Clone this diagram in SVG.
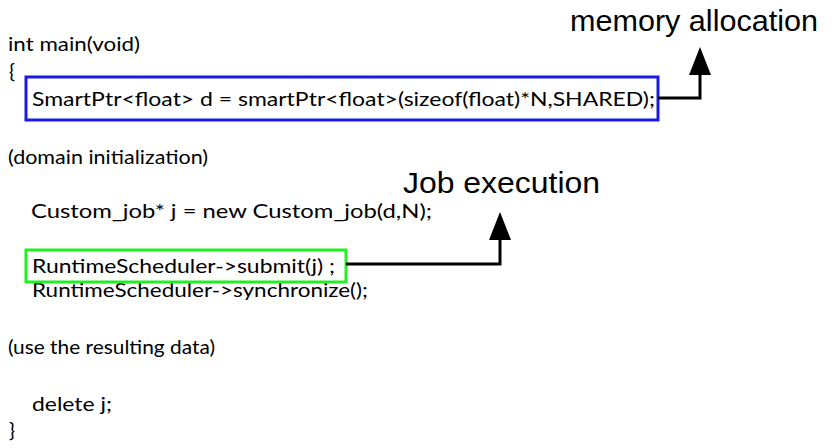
<svg xmlns="http://www.w3.org/2000/svg" width="832" height="448" viewBox="0 0 832 448">
  <defs>
    <marker id="head" viewBox="0 0 28 22" refX="0" refY="11" markerWidth="28" markerHeight="22" markerUnits="userSpaceOnUse" orient="auto">
      <path d="M0,0 L28,11 L0,22 Z" fill="#000"/>
    </marker>
    <style>
      .code { font-family: Lato, "Open Sans", "Liberation Sans", sans-serif; font-size: 20px; fill: #000; }
      .note { font-family: "Liberation Sans", Arial, sans-serif; font-size: 30px; fill: #000; }
      .box { fill: none; stroke-width: 3; }
      .wire { fill: none; stroke: #000; stroke-width: 3; }
    </style>
  </defs>
  <rect width="832" height="448" fill="#fff"/>

  <g id="code">
    <text class="code" x="8" y="51" textLength="132" lengthAdjust="spacingAndGlyphs">int main(void)</text>
    <text class="code" x="9" y="78">{</text>
    <text class="code" x="8" y="164" textLength="200" lengthAdjust="spacingAndGlyphs">(domain initialization)</text>
    <text class="code" x="31" y="218" textLength="401" lengthAdjust="spacingAndGlyphs">Custom_job* j = new Custom_job(d,N);</text>
    <text class="code" x="32" y="297" textLength="336" lengthAdjust="spacingAndGlyphs">RuntimeScheduler-&gt;synchronize();</text>
    <text class="code" x="8" y="354" textLength="207" lengthAdjust="spacingAndGlyphs">(use the resulting data)</text>
    <text class="code" x="32" y="411" textLength="80" lengthAdjust="spacingAndGlyphs">delete j;</text>
    <text class="code" x="9" y="437">}</text>
  </g>

  <g id="alloc">
    <rect class="box" x="26" y="77" width="632" height="43" stroke="#1a1ae6"/>
    <text class="code" x="32" y="106" textLength="623" lengthAdjust="spacingAndGlyphs">SmartPtr&lt;float&gt; d = smartPtr&lt;float&gt;(sizeof(float)*N,SHARED);</text>
  </g>

  <g id="submit">
    <rect class="box" x="26" y="250" width="320" height="32" stroke="#22ee22"/>
    <text class="code" x="32" y="273" textLength="303" lengthAdjust="spacingAndGlyphs">RuntimeScheduler-&gt;submit(j) ;</text>
  </g>

  <g id="memory-allocation">
    <text class="note" x="570" y="31" textLength="248" lengthAdjust="spacingAndGlyphs">memory allocation</text>
  </g>

  <g id="job-execution">
    <text class="note" x="403" y="193" textLength="197" lengthAdjust="spacingAndGlyphs">Job execution</text>
  </g>

  <g id="connectors">
    <path class="wire" d="M658,98 H700 V75" marker-end="url(#head)"/>
    <path class="wire" d="M346,264 H500 V240" marker-end="url(#head)"/>
  </g>
</svg>
